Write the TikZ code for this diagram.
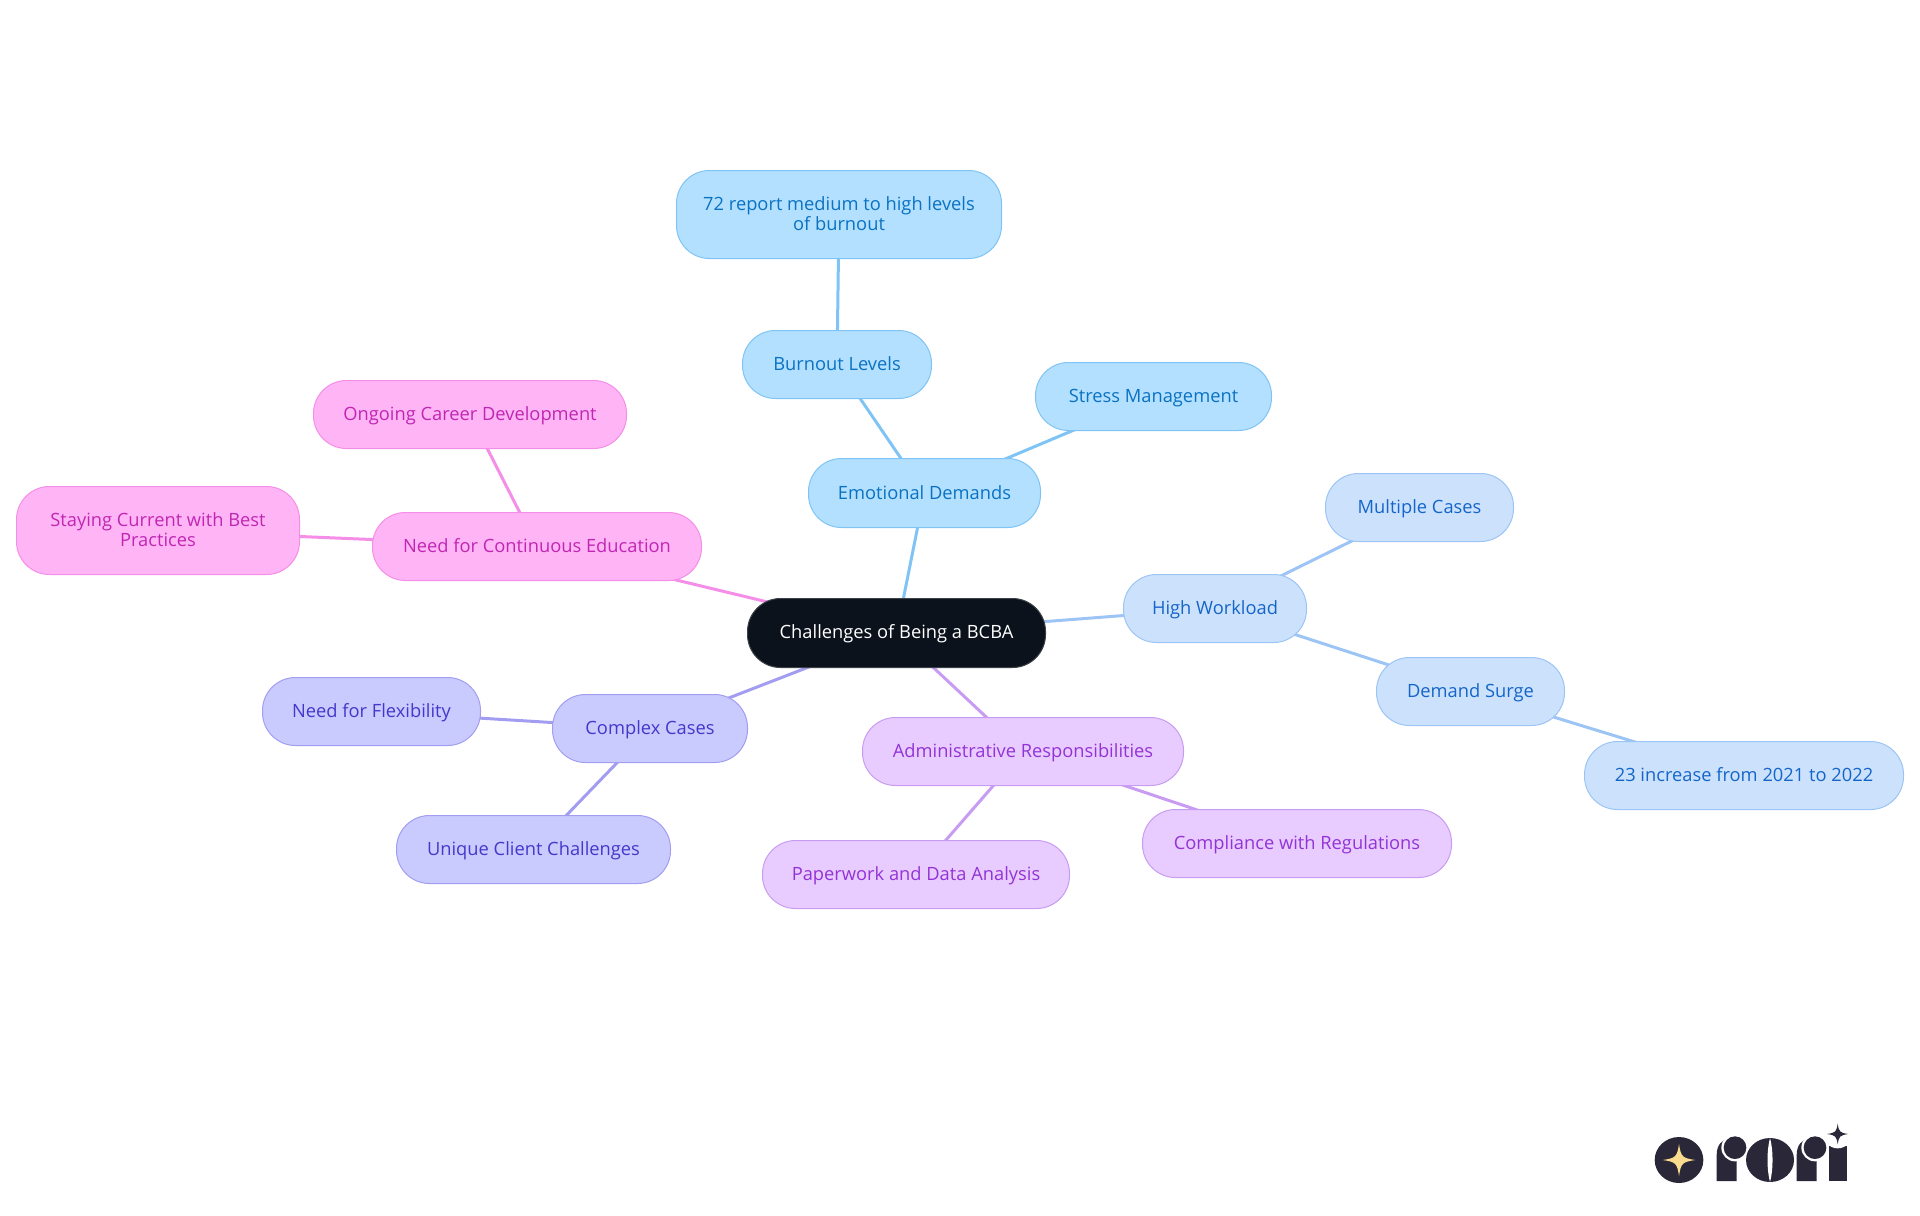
\documentclass[tikz,border=0pt]{standalone}
\usepackage{fontspec}
\setmainfont{Open Sans}
\usetikzlibrary{backgrounds}
\normallineskiplimit=-10pt
\lineskiplimit=-10pt
\definecolor{skyF}{HTML}{B3E0FF}\definecolor{skyS}{HTML}{7FC4F5}\definecolor{skyT}{HTML}{0A72C2}
\definecolor{bluF}{HTML}{CCE2FC}\definecolor{bluS}{HTML}{9CC4F5}\definecolor{bluT}{HTML}{1565C9}
\definecolor{purF}{HTML}{E8CCFF}\definecolor{purS}{HTML}{C89CF2}\definecolor{purT}{HTML}{9333D6}
\definecolor{indF}{HTML}{C9CBFF}\definecolor{indS}{HTML}{A39DF2}\definecolor{indT}{HTML}{4338CA}
\definecolor{pnkF}{HTML}{FFB5F5}\definecolor{pnkS}{HTML}{F58EE8}\definecolor{pnkT}{HTML}{C026B3}
\definecolor{rootF}{HTML}{0B121C}\definecolor{logoD}{HTML}{2A2838}\definecolor{logoG}{HTML}{FBDC8E}
\tikzset{
  x=0.5pt,y=-0.5pt,
  mm/.style={rectangle,rounded corners=16.5pt,line width=0.5pt,inner sep=0pt,align=center,
    font=\fontsize{9.15pt}{10pt}\selectfont},
  skyn/.style={mm,fill=skyF,draw=skyS,text=skyT},
  blun/.style={mm,fill=bluF,draw=bluS,text=bluT},
  purn/.style={mm,fill=purF,draw=purS,text=purT},
  indn/.style={mm,fill=indF,draw=indS,text=indT},
  pnkn/.style={mm,fill=pnkF,draw=pnkS,text=pnkT},
  rootn/.style={mm,fill=rootF,draw=rootF!80!white,text=white},
  lnk/.style={line width=1.5pt},
  logo/.style={fill=logoD,draw=none}
}
\newcommand{\lr}{\rule[-1.9pt]{0pt}{10pt}}
\newcommand{\nd}[7]{%
  \pgfmathsetmacro{\ndcx}{(#3+#5)/2}\pgfmathsetmacro{\ndcy}{(#4+#6)/2}%
  \pgfmathsetmacro{\ndw}{(#5-#3)*0.5-0.5}\pgfmathsetmacro{\ndh}{(#6-#4)*0.5-0.5}%
  \node[#2,minimum width=\ndw pt,minimum height=\ndh pt] (#1) at (\ndcx,\ndcy) {\lr #7};}
\newcommand{\sparkle}[5]{% cx cy rx ry colour
  \fill[#5] (#1-#3,#2) .. controls (#1-0.2*#3,#2-0.12*#4) and (#1-0.12*#3,#2-0.2*#4) .. (#1,#2-#4)
   .. controls (#1+0.12*#3,#2-0.2*#4) and (#1+0.2*#3,#2-0.12*#4) .. (#1+#3,#2)
   .. controls (#1+0.2*#3,#2+0.12*#4) and (#1+0.12*#3,#2+0.2*#4) .. (#1,#2+#4)
   .. controls (#1-0.12*#3,#2+0.2*#4) and (#1-0.2*#3,#2+0.12*#4) .. (#1-#3,#2) -- cycle;}
\newcommand{\lnkbetween}[3]{\draw[lnk,#3] (#1.center) -- (#2.center);}
\begin{document}
\begin{tikzpicture}
\useasboundingbox (0,0) rectangle (1920,1215);
\nd{root}{rootn}{747}{598}{1046}{668}{Challenges of Being a BCBA}
\nd{emo}{skyn}{808}{458}{1041}{528}{Emotional Demands}
\nd{burn}{skyn}{742}{330}{932}{399}{Burnout Levels}
\nd{rep}{skyn}{676}{170}{1002}{259}{72 report medium to high levels\\\lr of burnout}
\nd{stress}{skyn}{1035}{362}{1272}{431}{Stress Management}
\nd{high}{blun}{1123}{574}{1307}{643}{High Workload}
\nd{mult}{blun}{1325}{473}{1514}{542}{Multiple Cases}
\nd{surge}{blun}{1376}{657}{1565}{726}{Demand Surge}
\nd{incr}{blun}{1584}{741}{1904}{810}{23 increase from 2021 to 2022}
\nd{admin}{purn}{862}{717}{1184}{786}{Administrative Responsibilities}
\nd{comp}{purn}{1142}{809}{1452}{878}{Compliance with Regulations}
\nd{paper}{purn}{762}{840}{1070}{909}{Paperwork and Data Analysis}
\nd{cplx}{indn}{552}{694}{748}{763}{Complex Cases}
\nd{flex}{indn}{262}{677}{481}{746}{Need for Flexibility}
\nd{uniq}{indn}{396}{815}{671}{884}{Unique Client Challenges}
\nd{cont}{pnkn}{372}{512}{702}{581}{Need for Continuous Education}
\nd{ongo}{pnkn}{313}{380}{627}{449}{Ongoing Career Development}
\nd{stay}{pnkn}{16}{486}{300}{575}{Staying Current with Best\\\lr Practices}
\begin{scope}[on background layer]
\lnkbetween{root}{emo}{skyS}
\lnkbetween{emo}{burn}{skyS}
\lnkbetween{burn}{rep}{skyS}
\lnkbetween{emo}{stress}{skyS}
\lnkbetween{root}{high}{bluS}
\lnkbetween{high}{mult}{bluS}
\lnkbetween{high}{surge}{bluS}
\lnkbetween{surge}{incr}{bluS}
\lnkbetween{root}{admin}{purS}
\lnkbetween{admin}{comp}{purS}
\lnkbetween{admin}{paper}{purS}
\lnkbetween{root}{cplx}{indS}
\lnkbetween{cplx}{flex}{indS}
\lnkbetween{cplx}{uniq}{indS}
\lnkbetween{root}{cont}{pnkS}
\lnkbetween{cont}{ongo}{pnkS}
\lnkbetween{cont}{stay}{pnkS}
\end{scope}
% logo
\begin{scope}[shift={(1620,1100)},x=0.16667pt,y=-0.16667pt]
\fill[logoD] (177,180) ellipse [x radius=73,y radius=69];
\sparkle{177}{180}{49}{48}{logoG}
% first r
\path[logo] (290,243) -- (290,165) .. controls (290,135) and (305,118) .. (330,115) -- (350,115) -- (350,243) -- cycle;
\fill[white] (345,143) circle [radius=41];
\fill[logoD] (345,143) circle [radius=34];
% o
\fill[logoD] (450,180) ellipse [x radius=72,y radius=66];
\fill[white] (450,114) .. controls (440,150) and (440,210) .. (450,246) .. controls (460,210) and (460,150) .. (450,114) -- cycle;
% second r
\path[logo] (530,243) -- (530,165) .. controls (530,135) and (545,118) .. (570,115) -- (590,115) -- (590,243) -- cycle;
\fill[white] (585,143) circle [radius=41];
\fill[logoD] (585,143) circle [radius=34];
% i
\path[logo] (627,243) -- (627,138) -- (680,138) -- (680,243) -- cycle;
\fill[white] (653,102) circle [radius=43];
\sparkle{653}{102}{32}{31}{logoD}
\end{scope}
\end{tikzpicture}
\end{document}
